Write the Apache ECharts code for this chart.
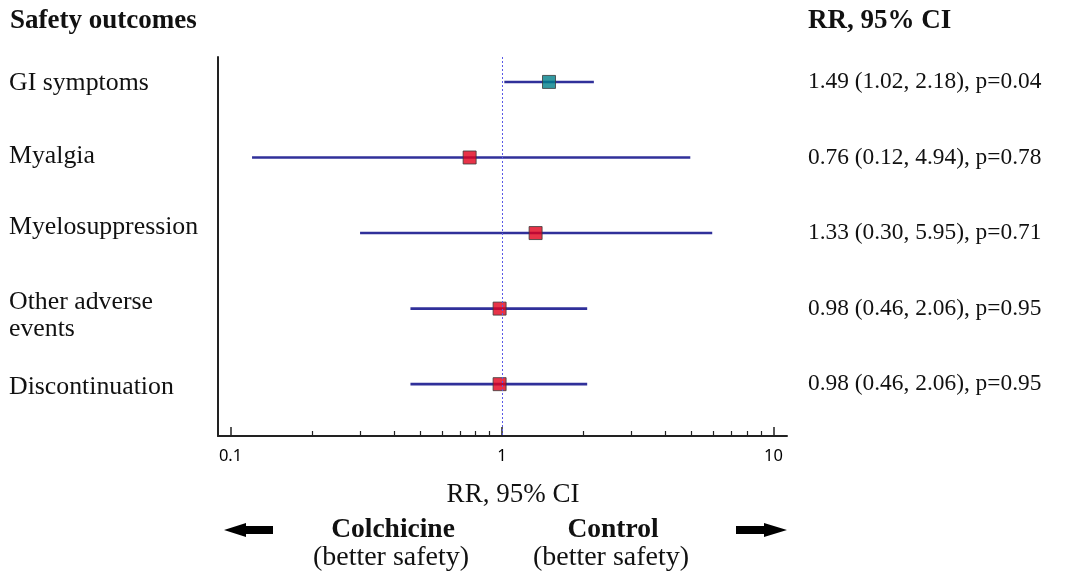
<!DOCTYPE html>
<html>
<head>
<meta charset="utf-8">
<script src="https://cdn.jsdelivr.net/npm/echarts@6/dist/echarts.min.js"></script>
<style>
  html, body { margin: 0; padding: 0; background: #fff; }
  #chart { width: 1069px; height: 574px; }
</style>
</head>
<body>
<div id="chart"></div>
<script>
// Safety outcomes: risk ratio with 95% confidence interval and p-value
const outcomes = ['GI symptoms', 'Myalgia', 'Myelosuppression', 'Other adverse\nevents', 'Discontinuation'];
const rr      = [1.49, 0.76, 1.33, 0.98, 0.98];
const ciLow   = [1.02, 0.12, 0.30, 0.46, 0.46];
const ciHigh  = [2.18, 4.94, 5.95, 2.06, 2.06];
const pValues = ['0.04', '0.78', '0.71', '0.95', '0.95'];
const majorTicks = [0.1, 1, 10];
const minorTicks = [0.2, 0.3, 0.4, 0.5, 0.6, 0.7, 0.8, 0.9, 2, 3, 4, 5, 6, 7, 8, 9];

const SERIF = '"Liberation Serif", "Times New Roman", serif';
const SANS = '"Noto Sans", "Open Sans", sans-serif';
const rows = outcomes.map((_, i) => i);
const fmt = v => v.toFixed(2);
const summaries = rows.map(i => `${fmt(rr[i])} (${fmt(ciLow[i])}, ${fmt(ciHigh[i])}), p=${pValues[i]}`);

// Left-hand label positions (text centre, in pixels)
const labelY = [83, 156, 227, 316, 387];

const chart = echarts.init(document.getElementById('chart'), null, { renderer: 'canvas' });

const xBase = {
  type: 'log',
  logBase: 10,
  min: 0.0899,
  max: 11.22,
  splitLine: { show: false }
};

chart.setOption({
  animation: false,
  grid: { left: 218, right: 282, top: 57, bottom: 138, containLabel: false },
  xAxis: [
    Object.assign({}, xBase, {
      axisLine: { show: true, onZero: false, lineStyle: { color: '#222', width: 2 } },
      axisTick: { show: true, inside: true, length: 9, customValues: majorTicks, lineStyle: { color: '#222', width: 1.5 } },
      axisLabel: {
        show: true, customValues: majorTicks, margin: 12,
        color: '#000', fontFamily: SANS, fontSize: 16.5,
        formatter: v => String(+v.toPrecision(3))
      }
    }),
    Object.assign({}, xBase, {
      position: 'bottom',
      axisLine: { show: false, onZero: false },
      axisTick: { show: true, inside: true, length: 5, customValues: minorTicks, lineStyle: { color: '#222', width: 1.2 } },
      axisLabel: { show: false }
    })
  ],
  yAxis: [
    {
      type: 'value', inverse: true, min: -0.33, max: 4.686,
      splitLine: { show: false },
      axisLine: { show: true, onZero: false, lineStyle: { color: '#222', width: 2 } },
      axisTick: { show: false },
      axisLabel: { show: false }
    },
    {
      type: 'value', inverse: true, min: -0.33, max: 4.686, position: 'right',
      splitLine: { show: false },
      axisLine: { show: false, onZero: false },
      axisTick: { show: false },
      axisLabel: {
        show: true, customValues: rows, margin: 21, align: 'left',
        color: '#111', fontFamily: SERIF, fontSize: 23.4,
        formatter: v => summaries[Math.round(v)]
      }
    }
  ],
  series: [
    {
      // Confidence interval whiskers
      type: 'custom',
      xAxisIndex: 0, yAxisIndex: 0,
      data: rows.map(i => [ciLow[i], ciHigh[i], i]),
      encode: { x: [0, 1], y: 2 },
      renderItem: (params, api) => {
        const a = api.coord([api.value(0), api.value(2)]);
        const b = api.coord([api.value(1), api.value(2)]);
        return {
          type: 'line',
          shape: { x1: a[0], y1: a[1], x2: b[0], y2: b[1] },
          style: { stroke: '#30309a', lineWidth: 2.6 }
        };
      },
      z: 2
    },
    {
      // Point estimates
      type: 'scatter',
      xAxisIndex: 0, yAxisIndex: 0,
      symbol: 'rect',
      symbolSize: 13,
      data: rows.map(i => ({
        value: [rr[i], i],
        itemStyle: { color: i === 0 ? '#00808a' : '#e2001a' }
      })),
      itemStyle: { borderColor: '#3a3a3a', borderWidth: 1 },
      markLine: {
        silent: true,
        symbol: ['none', 'none'],
        label: { show: false },
        lineStyle: { type: [2, 2], color: '#5a5ae6', width: 1 },
        data: [{ xAxis: 1 }]
      },
      z: 3
    }
  ],
  graphic: [
    { type: 'text', x: 10, y: 21, style: { text: 'Safety outcomes', font: `bold 27px ${SERIF}`, fill: '#111', textVerticalAlign: 'middle' } },
    { type: 'text', x: 808, y: 21, style: { text: 'RR, 95% CI', font: `bold 27px ${SERIF}`, fill: '#111', textVerticalAlign: 'middle' } },
    ...outcomes.map((name, i) => ({
      type: 'text', x: 9, y: labelY[i],
      style: { text: name, font: `25.8px ${SERIF}`, fill: '#111', textVerticalAlign: 'middle', lineHeight: 27 }
    })),
    { type: 'text', x: 513, y: 495, style: { text: 'RR, 95% CI', font: `27px ${SERIF}`, fill: '#111', textAlign: 'center', textVerticalAlign: 'middle' } },
    { type: 'text', x: 393, y: 530, style: { text: 'Colchicine', font: `bold 27.5px ${SERIF}`, fill: '#111', textAlign: 'center', textVerticalAlign: 'middle' } },
    { type: 'text', x: 391, y: 558, style: { text: '(better safety)', font: `28px ${SERIF}`, fill: '#111', textAlign: 'center', textVerticalAlign: 'middle' } },
    { type: 'text', x: 613, y: 530, style: { text: 'Control', font: `bold 27.5px ${SERIF}`, fill: '#111', textAlign: 'center', textVerticalAlign: 'middle' } },
    { type: 'text', x: 611, y: 558, style: { text: '(better safety)', font: `28px ${SERIF}`, fill: '#111', textAlign: 'center', textVerticalAlign: 'middle' } },
    // Direction arrows
    { type: 'polygon', shape: { points: [[224, 530], [246, 523], [246, 526], [273, 526], [273, 534], [246, 534], [246, 537]] }, style: { fill: '#000' } },
    { type: 'polygon', shape: { points: [[787, 530], [764, 523], [764, 526], [736, 526], [736, 534], [764, 534], [764, 537]] }, style: { fill: '#000' } }
  ]
});
</script>
</body>
</html>
